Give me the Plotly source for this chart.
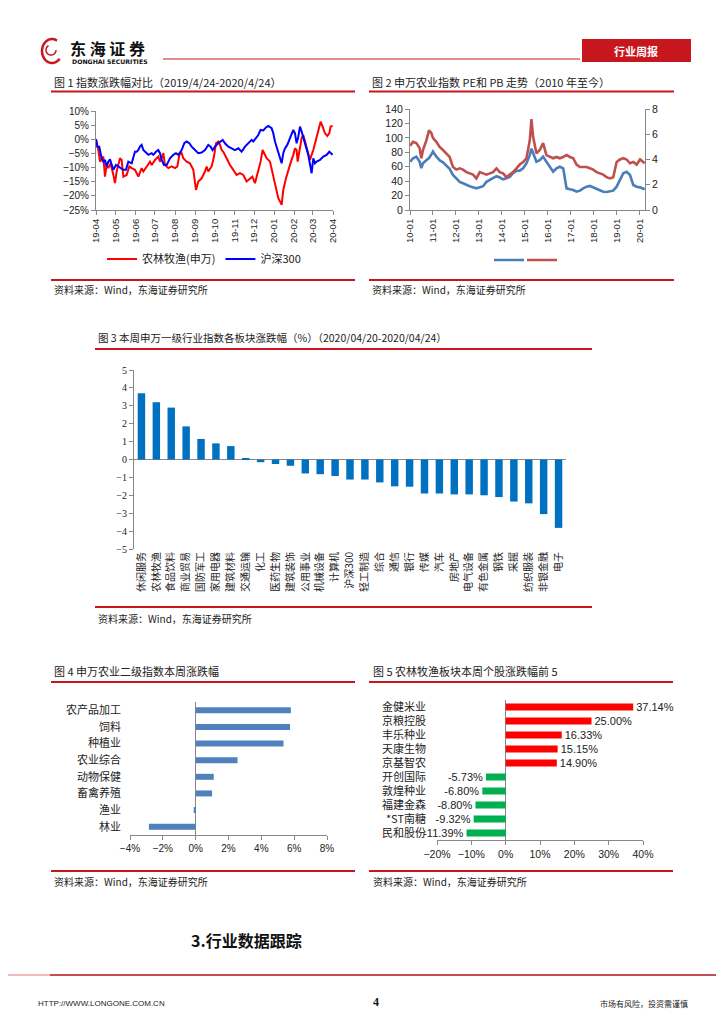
import math
import pandas as pd
import plotly.graph_objects as go

# The page body has an 8px margin; the figure fills the rest of the 724x1024 window.
OFF = 8
W, H = 724 - OFF, 1024 - OFF
def X(px): return (px - OFF) / W
def Y(py): return 1 - (py - OFF) / H

RED = "#C8161E"
AXIS = "#888888"
CJK = "Noto Sans CJK SC"
SANS = "Liberation Sans, Noto Sans CJK SC"

# ---------------- Chart 1 data: index change since 2019-04-24 (%) ----------------
c1_start = "2019-04-24"
c1_ticktext = ["19-04", "19-05", "19-06", "19-07", "19-08", "19-09", "19-10",
               "19-11", "19-12", "20-01", "20-02", "20-03", "20-04"]
agri_days = [0, 3.6, 6.2, 11.3, 13.9, 16.5, 19, 22.6, 26.8, 29.3,
             31.9, 37, 39.6, 42.2, 47.3, 51.5, 55.1, 60.2, 65.4, 70.5,
             73.1, 78.2, 83.4, 86, 91.1, 96.2, 98.8, 101.4, 104, 106.5,
             111.7, 116.8, 122, 125.6, 128.7, 132.3, 134.8, 140, 145.1, 150.3,
             154.4, 158, 163.1, 168.3, 170.9, 173.4, 178.6, 182.2, 185.3, 188.9,
             191.5, 194, 196.6, 201.7, 206.9, 212, 217.2, 222.3, 227.5, 232.6,
             237.8, 241.4, 245.5, 250.6, 254.2, 257.3, 260.9, 263.5, 268.7, 272.8,
             276.4, 281.5, 286.7, 289.2, 293.4, 297, 301.1, 304.7, 307.3, 309.8,
             311.4, 314, 317.6, 320.1, 324.2, 327.8, 330.4, 333, 335.6, 339.7,
             343.3, 346.9, 350, 353.6, 357.2, 360.3, 362.3, 365.4]
agri_vals = [0, -3.8, -7.9, -6.1, -13.2, -9.1, -10.2, -8.5, -12.6, -15.5,
             -11.4, -6.7, -7.3, -13.2, -12.6, -9.6, -10.2, -10.8, -13.2, -10.2,
             -11.4, -9.6, -7.9, -9.1, -7.3, -6.1, -7.9, -6.7, -4.9, -9.1,
             -10.2, -9.6, -10.2, -9.6, -5.5, -4.9, -6.7, -7.9, -8.5, -10.8,
             -17.9, -14.9, -13.8, -11.4, -9.6, -11.4, -9.6, -6.1, -1.4, -0.8,
             -2.0, -3.8, -4.4, -6.7, -9.1, -10.8, -12.6, -12.0, -12.6, -14.9,
             -13.8, -13.2, -15.5, -11.4, -7.9, -3.8, -5.5, -6.7, -7.9, -12.0,
             -16.7, -20.8, -23.2, -17.9, -13.8, -10.8, -7.9, -5.5, -3.2, -3.8,
             -7.9, -4.4, 0.4, 1.5, -2.0, -5.5, -7.3, -5.5, -3.8, -0.2,
             2.7, 6.2, 4.5, 2.1, 1.2, 2.1, 4.5, 4.7]
hs300_days = [0, 2.1, 5.1, 8.7, 11.3, 13.9, 16.5, 19, 21.6, 24.2,
              26.8, 30.9, 34.5, 37.1, 42.2, 46.3, 49.9, 55.1, 57.6, 60.2,
              62.8, 65.4, 67.9, 70.5, 73.1, 75.7, 80.8, 86, 88.5, 92.6,
              96.2, 98.8, 101.4, 105, 109.1, 111.7, 114.3, 119.4, 123.5, 127.1,
              132.3, 136.4, 140, 144.1, 147.7, 152.9, 158, 163.1, 168.3, 173.4,
              177, 180.1, 183.7, 188.9, 192.5, 195.6, 199.2, 204.3, 209.5, 214.6,
              219.8, 224.9, 230.1, 235.2, 240.4, 242.9, 247, 250.6, 254.2, 258.4,
              262.5, 266.1, 271.2, 273.8, 276.4, 280, 284.1, 286.7, 289.2, 291.8,
              295.4, 298.5, 302.1, 304.7, 307.3, 309.8, 312.4, 315, 317.6, 320.1,
              324.2, 327.8, 330.4, 333, 335.6, 338.1, 340.7, 345.9, 351, 356.2,
              360.3, 362.8, 365.4]
hs300_vals = [0, -2.6, -2.6, -6.7, -7.9, -7.3, -9.6, -7.9, -7.1, -9.1,
              -10.8, -9.1, -9.6, -10.2, -10.8, -10.8, -7.9, -8.5, -6.1, -4.4,
              -4.4, -3.8, -2.6, -2.0, -3.8, -4.4, -5.5, -4.9, -5.5, -4.4,
              -3.8, -4.9, -7.3, -9.1, -9.1, -7.9, -6.7, -5.5, -4.9, -5.5,
              -3.8, -1.4, -0.8, -1.4, -2.6, -3.8, -4.9, -4.7, -3.8, -2.0,
              -2.6, -3.8, -2.6, -1.4, -0.8, -0.2, -1.4, -2.6, -3.2, -3.8,
              -3.2, -4.4, -2.6, -1.4, -0.2, -0.8, 0.4, 1.5, 3.3, 3.1,
              4.2, 4.7, 3.9, 2.1, -0.8, -3.8, -6.7, -8.5, -4.9, -3.2,
              -2.0, -0.2, 2.1, 3.3, 2.1, -1.4, 0.9, 4.5, 2.7, 0.4,
              -2.6, -5.5, -9.6, -12.0, -6.7, -8.5, -7.9, -7.3, -6.1, -5.5,
              -4.4, -4.9, -5.5]

# ---------------- Chart 2 data: PE (left) and PB (right) ----------------
val_dates = ["2010-01-04", "2010-02-18", "2010-04-11", "2010-06-03", "2010-06-30", "2010-07-26",
             "2010-09-17", "2010-10-30", "2010-12-06", "2011-01-02", "2011-02-24", "2011-04-17",
             "2011-06-09", "2011-08-01", "2011-09-23", "2011-11-15", "2012-01-08", "2012-03-01",
             "2012-04-23", "2012-06-15", "2012-08-07", "2012-09-29", "2012-11-21", "2013-01-14",
             "2013-03-08", "2013-04-30", "2013-06-22", "2013-08-14", "2013-10-06", "2013-11-28",
             "2014-01-20", "2014-03-14", "2014-05-06", "2014-06-28", "2014-08-20", "2014-10-12",
             "2014-12-04", "2015-01-26", "2015-03-20", "2015-04-16", "2015-05-12", "2015-06-08",
             "2015-07-04", "2015-08-26", "2015-10-18", "2015-12-10", "2016-02-02", "2016-03-26",
             "2016-05-18", "2016-07-10", "2016-09-02", "2016-09-28", "2016-10-25", "2016-12-17",
             "2017-02-08", "2017-04-02", "2017-05-25", "2017-07-17", "2017-09-08", "2017-10-31",
             "2017-12-23", "2018-02-14", "2018-04-08", "2018-05-31", "2018-07-23", "2018-09-14",
             "2018-11-06", "2018-12-30", "2019-02-21", "2019-04-15", "2019-06-07", "2019-07-30",
             "2019-09-21", "2019-11-13", "2020-01-06", "2020-03-20"]
pe_vals = [67, 71.6, 74, 67, 58, 64.7, 69, 72, 77, 81,
           74, 69, 66, 62, 57, 48.5, 44, 39, 37, 34.7,
           33, 31.4, 30, 31.4, 33, 39, 41.6, 45, 47, 45,
           42.5, 44, 46, 51, 54.5, 54.5, 57.8, 64.7, 76, 85,
           78.5, 71.6, 67, 69, 74, 67, 60, 53, 57.8, 60,
           57.8, 41.6, 30, 28.7, 27.7, 25.4, 26.8, 30, 32.3, 33.3,
           31.4, 28.7, 26.8, 25.4, 25, 25.4, 26.8, 32.3, 41.6, 51,
           53, 48.5, 34.7, 32.3, 31.4, 28.7]
pb_vals = [5.1, 5.4, 5.3, 4.9, 4.1, 4.75, 5.5, 6.3, 6.1, 5.7,
           5.4, 5.0, 4.75, 4.5, 4.2, 3.4, 3.2, 3.3, 3.2, 3.0,
           2.9, 2.8, 2.5, 3.0, 2.9, 2.8, 2.9, 3.0, 3.3, 3.0,
           2.9, 2.6, 2.8, 3.0, 3.3, 3.6, 3.8, 4.1, 5.5, 7.2,
           5.8, 5.1, 4.5, 4.75, 5.3, 4.35, 4.2, 4.1, 4.2, 4.1,
           4.2, 4.3, 4.35, 4.2, 4.1, 3.6, 3.4, 3.4, 3.4, 3.3,
           3.2, 3.0, 2.9, 2.8, 2.6, 2.5, 2.6, 3.8, 4.0, 4.1,
           4.0, 3.7, 3.8, 3.6, 4.0, 3.7]
val_ticktext = ["10-01", "11-01", "12-01", "13-01", "14-01", "15-01",
                "16-01", "17-01", "18-01", "19-01", "20-01"]

# ---------------- Chart 3 data: SW level-1 industries weekly change (%) ----------------
ind_names = ["休闲服务", "农林牧渔", "食品饮料", "商业贸易", "国防军工", "家用电器", "建筑材料",
             "交通运输", "化工", "医药生物", "建筑装饰", "公用事业", "机械设备", "计算机",
             "沪深300", "轻工制造", "综合", "通信", "银行", "传媒", "汽车", "房地产",
             "电气设备", "有色金属", "钢铁", "采掘", "纺织服装", "非银金融", "电子"]
ind_vals = [3.7, 3.2, 2.9, 1.85, 1.15, 0.9, 0.75, 0.08, -0.15, -0.25, -0.35, -0.78, -0.82,
            -0.92, -1.12, -1.12, -1.28, -1.5, -1.52, -1.9, -1.9, -1.95, -1.95, -2.0,
            -2.1, -2.35, -2.45, -3.05, -3.82]

# ---------------- Chart 4 data: SW agriculture level-2 weekly change (%) ----------------
sub_names = ["农产品加工", "饲料", "种植业", "农业综合", "动物保健", "畜禽养殖", "渔业", "林业"]
sub_vals = [5.8, 5.75, 5.35, 2.55, 1.1, 1.0, -0.12, -2.85]

# ---------------- Chart 5 data: top / bottom 5 stocks (%) ----------------
stock_names = ["金健米业", "京粮控股", "丰乐种业", "天康生物", "京基智农",
               "开创国际", "敦煌种业", "福建金森", "*ST南糖", "民和股份"]
stock_vals = [37.14, 25.00, 16.33, 15.15, 14.90, -5.73, -6.80, -8.80, -9.32, -11.39]

# ---------------- derived ----------------
t0 = pd.Timestamp(c1_start)
agri_x = [t0 + pd.Timedelta(days=d) for d in agri_days]
hs_x = [t0 + pd.Timedelta(days=d) for d in hs300_days]
c1_tickvals = [t0 + pd.DateOffset(months=i) for i in range(len(c1_ticktext))]
val_tickvals = [pd.Timestamp(f"20{t[:2]}-01-01") for t in val_ticktext]
stock_colors = ["#FF0000" if v > 0 else "#00B050" for v in stock_vals]

fig = go.Figure()

fig.add_trace(go.Scatter(x=agri_x, y=agri_vals, mode="lines", name="农林牧渔(申万)",
                         line=dict(color="#FF0000", width=2), xaxis="x", yaxis="y", legend="legend"))
fig.add_trace(go.Scatter(x=hs_x, y=hs300_vals, mode="lines", name="沪深300",
                         line=dict(color="#0000FF", width=2), xaxis="x", yaxis="y", legend="legend"))

fig.add_trace(go.Scatter(x=val_dates, y=pe_vals, mode="lines", name=" ",
                         line=dict(color="#4A7EBB", width=2.6), xaxis="x2", yaxis="y2", legend="legend2"))
fig.add_trace(go.Scatter(x=val_dates, y=pb_vals, mode="lines", name=" ",
                         line=dict(color="#C0504D", width=2.6), xaxis="x2", yaxis="y3", legend="legend3"))

fig.add_trace(go.Bar(x=ind_names, y=ind_vals, marker_color="#0070C0", width=0.5,
                     xaxis="x4", yaxis="y4", showlegend=False))

fig.add_trace(go.Bar(x=sub_vals, y=sub_names, orientation="h", marker_color="#4F81BD", width=0.36,
                     xaxis="x5", yaxis="y5", showlegend=False))

fig.add_trace(go.Bar(x=stock_vals, y=stock_names, orientation="h", marker_color=stock_colors, width=0.5,
                     text=[f"{v:.2f}%" for v in stock_vals], textposition="outside",
                     constraintext="none",
                     textfont=dict(family=SANS, size=11, color="#222"), cliponaxis=False,
                     xaxis="x6", yaxis="y6", showlegend=False))

tickfont = dict(family=SANS, size=10, color="#222")
common_axis = dict(showgrid=False, zeroline=False, showline=True, linecolor=AXIS, linewidth=1,
                   ticks="outside", tickcolor=AXIS, ticklen=4, automargin=False)
leg_font = dict(family=CJK, size=11, color="#222")

layout = dict(
    template="none",
    width=W, height=H, margin=dict(l=0, r=0, t=0, b=0, pad=0, autoexpand=False),
    paper_bgcolor="white", plot_bgcolor="rgba(0,0,0,0)", showlegend=True,
    font=dict(family=SANS, size=10, color="#222"),
    # chart 1
    xaxis=dict(domain=[X(96), X(333)], anchor="y", type="date",
               range=[c1_tickvals[0], c1_tickvals[-1]], tickvals=c1_tickvals, ticktext=c1_ticktext,
               tickangle=-90, tickfont=dict(family=SANS, size=9.5, color="#222"), **common_axis),
    yaxis=dict(domain=[Y(210), Y(111)], anchor="x", range=[-25, 10], dtick=5, ticksuffix="%",
               tickfont=tickfont, **common_axis),
    # chart 2
    xaxis2=dict(domain=[X(410), X(645)], anchor="y2", type="date",
                range=["2010-01-01", "2020-03-25"], tickvals=val_tickvals, ticktext=val_ticktext,
                tickangle=-90, tickfont=dict(family=SANS, size=9.5, color="#222"), **common_axis),
    yaxis2=dict(domain=[Y(210), Y(109)], anchor="x2", range=[0, 140], dtick=20,
                tickfont=dict(family=SANS, size=10.5, color="#222"), **common_axis),
    yaxis3=dict(overlaying="y2", anchor="x2", side="right", range=[0, 8], dtick=2,
                tickfont=dict(family=SANS, size=10.5, color="#222"), **common_axis),
    # chart 3
    xaxis4=dict(domain=[X(134), X(566)], anchor="y4", type="category", range=[-0.5, 28.5],
                tickangle=-90, showgrid=False, zeroline=False, showline=False, ticks="", automargin=False,
                tickfont=dict(family=CJK, size=10, color="#222")),
    yaxis4=dict(domain=[Y(549), Y(370)], anchor="x4", range=[-5, 5], dtick=1, automargin=False,
                zeroline=True, zerolinecolor=AXIS, zerolinewidth=1,
                showgrid=False, showline=True, linecolor=AXIS, ticks="outside", tickcolor=AXIS, ticklen=4,
                tickfont=dict(family="Liberation Serif", size=10, color="#222")),
    # chart 4
    xaxis5=dict(domain=[X(130), X(327)], anchor="y5", range=[-4, 8], dtick=2, ticksuffix="%",
                zeroline=True, zerolinecolor=AXIS, zerolinewidth=1, automargin=False,
                showgrid=False, showline=True, linecolor=AXIS, ticks="outside", tickcolor=AXIS, ticklen=4,
                tickfont=tickfont),
    yaxis5=dict(domain=[Y(835), Y(702)], anchor="x5", type="category", autorange="reversed",
                showgrid=False, zeroline=False, showline=False, ticks="", ticklabelstandoff=8,
                automargin=False, tickfont=dict(family=CJK, size=11, color="#222")),
    # chart 5
    xaxis6=dict(domain=[X(437), X(643)], anchor="y6", range=[-20, 40], dtick=10, ticksuffix="%",
                zeroline=True, zerolinecolor=AXIS, zerolinewidth=1, automargin=False,
                showgrid=False, showline=True, linecolor=AXIS, ticks="outside", tickcolor=AXIS, ticklen=4,
                tickfont=dict(family=SANS, size=10.5, color="#222")),
    yaxis6=dict(domain=[Y(840), Y(700)], anchor="x6", type="category", autorange="reversed",
                showgrid=False, zeroline=False, showline=False, ticks="", ticklabelstandoff=10,
                automargin=False, tickfont=dict(family=CJK, size=11, color="#222")),
    legend=dict(orientation="h", x=X(204), y=Y(259), xanchor="center", yanchor="middle",
                font=leg_font, bgcolor="rgba(0,0,0,0)"),
    legend2=dict(orientation="h", x=X(489), y=Y(260), xanchor="left", yanchor="middle",
                 font=leg_font, bgcolor="rgba(0,0,0,0)"),
    legend3=dict(orientation="h", x=X(522), y=Y(260), xanchor="left", yanchor="middle",
                 font=leg_font, bgcolor="rgba(0,0,0,0)"),
)
fig.update_layout(**layout)

shapes = []
annotations = []

def hline(x0, x1, y, color=RED, width=2):
    shapes.append(dict(type="line", xref="paper", yref="paper", x0=X(x0), x1=X(x1), y0=Y(y), y1=Y(y),
                       line=dict(color=color, width=width)))

def text(x, y, s, size=11, family=CJK, color="#222", xanchor="left", bold=False):
    annotations.append(dict(xref="paper", yref="paper", x=X(x), y=Y(y), text=(f"<b>{s}</b>" if bold else s),
                            showarrow=False, xanchor=xanchor, yanchor="middle",
                            font=dict(family=family, size=size, color=color)))

# header
hline(163, 580, 59, width=1.2)
shapes.append(dict(type="rect", xref="paper", yref="paper", x0=X(582), x1=X(691), y0=Y(62), y1=Y(39),
                   fillcolor=RED, line=dict(width=0)))
text(636, 50.5, "行业周报", size=11, color="white", xanchor="center", bold=True)
# logo swirl
pts = []
for i in range(41):
    a = math.radians(60 + i * 6.5)
    pts.append((52 + 10 * math.cos(a), 51 - 12 * math.sin(a)))
path = "M " + " L ".join(f"{X(px):.5f},{Y(py):.5f}" for px, py in pts)
shapes.append(dict(type="path", xref="paper", yref="paper", path=path, line=dict(color=RED, width=2.5)))
pts2 = []
for i in range(25):
    a = math.radians(120 + i * 10)
    pts2.append((51 + 5 * math.cos(a), 50 - 5 * math.sin(a)))
path2 = "M " + " L ".join(f"{X(px):.5f},{Y(py):.5f}" for px, py in pts2)
shapes.append(dict(type="path", xref="paper", yref="paper", path=path2, line=dict(color=RED, width=1.5)))
text(68, 48, "东 海 证 券", size=16, family=CJK, color="#111", bold=True)
text(70, 61, "DONGHAI SECURITIES", size=6.2, family="DejaVu Sans", color="#111", bold=True)

# chart titles and rules
text(52, 82, "图 1 指数涨跌幅对比（2019/4/24-2020/4/24）", size=11)
hline(51, 355, 91.5)
hline(51, 355, 280)
text(52, 290, "资料来源：Wind，东海证券研究所", size=10)

text(370, 82, "图 2 申万农业指数 PE和 PB 走势（2010 年至今）", size=11)
hline(369, 674, 91.5)
hline(369, 674, 280)
text(370, 290, "资料来源：Wind，东海证券研究所", size=10)

text(96, 337, "图 3 本周申万一级行业指数各板块涨跌幅（%）（2020/04/20-2020/04/24）", size=10.5)
hline(95, 592, 349)
hline(95, 592, 607)
text(96, 618, "资料来源：Wind，东海证券研究所", size=10)

text(52, 671, "图 4 申万农业二级指数本周涨跌幅", size=11)
hline(51, 355, 682)
hline(51, 355, 871)
text(52, 881, "资料来源：Wind，东海证券研究所", size=10)

text(371, 671, "图 5 农林牧渔板块本周个股涨跌幅前 5", size=11)
hline(369, 673, 682)
hline(369, 673, 871)
text(371, 881, "资料来源：Wind，东海证券研究所", size=10)

# section heading and footer
text(189, 940, "3.行业数据跟踪", size=16, color="#111", bold=True)
hline(OFF, 50, 975, color="#E8A3A3", width=1.5)
hline(50, 724, 975, color="#B5121B", width=1.5)
text(36, 1003, "HTTP://WWW.LONGONE.COM.CN", size=8, family="Liberation Sans Narrow, Liberation Sans")
text(376, 1002, "4", size=12, family="Liberation Serif", color="#111", xanchor="center", bold=True)
text(690, 1003, "市场有风险，投资需谨慎", size=8, xanchor="right")

fig.update_layout(shapes=shapes, annotations=annotations)
fig.write_html("out.html")
